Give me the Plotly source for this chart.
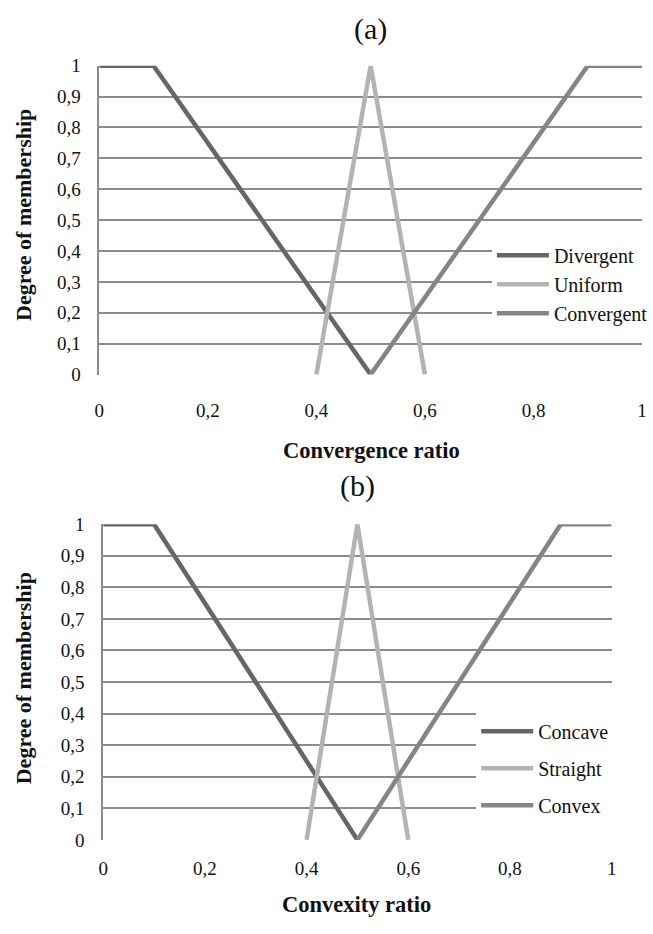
import plotly.graph_objects as go

# Data
div_x = [0, 0.1, 0.5]
div_y = [1, 1, 0]
uni_x = [0.4, 0.5, 0.6]
uni_y = [0, 1, 0]
con_x = [0.5, 0.9, 1]
con_y = [0, 1, 1]

names_a = ["Divergent", "Uniform", "Convergent"]
names_b = ["Concave", "Straight", "Convex"]
colors = ["#666666", "#b3b3b3", "#858585"]

xticks = [0, 0.2, 0.4, 0.6, 0.8, 1]
xtick_text = ["0", "0,2", "0,4", "0,6", "0,8", "1"]
yticks = [0, 0.1, 0.2, 0.3, 0.4, 0.5, 0.6, 0.7, 0.8, 0.9, 1]
ytick_text = ["0", "0,1", "0,2", "0,3", "0,4", "0,5", "0,6", "0,7", "0,8", "0,9", "1"]

FONT = "Liberation Serif, Times New Roman, serif"
GRID = "#8c8c8c"
TXT = "#111111"

series = [(div_x, div_y), (uni_x, uni_y), (con_x, con_y)]

fig = go.Figure()
for i, (xs, ys) in enumerate(series):
    fig.add_trace(go.Scatter(x=xs, y=ys, mode="lines", name=names_a[i],
                             line=dict(color=colors[i], width=4.5),
                             xaxis="x", yaxis="y", legend="legend",
                             legendgroup="a%d" % i, cliponaxis=False))
for i, (xs, ys) in enumerate(series):
    fig.add_trace(go.Scatter(x=xs, y=ys, mode="lines", name=names_b[i],
                             line=dict(color=colors[i], width=4.5),
                             xaxis="x2", yaxis="y2", legend="legend2",
                             legendgroup="b%d" % i, cliponaxis=False))

W, H = 653, 934

def px(x):
    return x / W

def py(y):
    return 1 - y / H

xcommon = dict(range=[0, 1], showgrid=False, zeroline=False, showline=False,
               tickmode="array", tickvals=xticks, ticktext=xtick_text,
               tickfont=dict(family=FONT, size=19, color=TXT), ticks="")
ycommon = dict(range=[0, 1], showgrid=True, gridcolor=GRID, gridwidth=1.5,
               zeroline=False, showline=True, linecolor=GRID, linewidth=1.5,
               tickmode="array", tickvals=yticks, ticktext=ytick_text,
               tickfont=dict(family=FONT, size=19, color=TXT), ticks="",
               ticklabelstandoff=13)

fig.update_layout(
    width=W, height=H,
    margin=dict(l=0, r=0, t=0, b=0),
    paper_bgcolor="white", plot_bgcolor="white",
    font=dict(family=FONT, color=TXT),
    xaxis=dict(domain=[px(96), px(649)], anchor="y", ticklabelstandoff=22, **xcommon),
    yaxis=dict(domain=[py(373), py(57)], anchor="x", **ycommon),
    xaxis2=dict(domain=[px(100), px(618)], anchor="y2", ticklabelstandoff=15, **xcommon),
    yaxis2=dict(domain=[py(849), py(526)], anchor="x2", **ycommon),
    legend=dict(x=px(496), y=py(231), xanchor="left", yanchor="top",
                bgcolor="white", traceorder="grouped", tracegroupgap=0,
                font=dict(family=FONT, size=20, color=TXT),
                itemwidth=52),
    legend2=dict(x=px(480), y=py(718), xanchor="left", yanchor="top",
                 bgcolor="white", traceorder="grouped", tracegroupgap=8,
                 font=dict(family=FONT, size=20, color=TXT),
                 itemwidth=52),
    showlegend=True,
)

ann = [
    dict(text="(a)", x=px(372), y=py(19), size=30, angle=0),
    dict(text="(b)", x=px(359), y=py(487), size=30, angle=0),
    dict(text="<b>Convergence ratio</b>", x=px(373), y=py(451), size=22.5, angle=0),
    dict(text="<b>Convexity ratio</b>", x=px(358), y=py(915), size=22.5, angle=0),
    dict(text="<b>Degree of membership</b>", x=px(19), y=py(210), size=22, angle=-90),
    dict(text="<b>Degree of membership</b>", x=px(19), y=py(684), size=22, angle=-90),
]
for a in ann:
    fig.add_annotation(text=a["text"], x=a["x"], y=a["y"], xref="paper", yref="paper",
                       xanchor="center", yanchor="middle", showarrow=False,
                       textangle=a["angle"],
                       font=dict(family=FONT, size=a["size"], color=TXT))

fig.write_html("out.html", config={"displayModeBar": False},
               post_script="document.body.style.margin='0';document.body.style.overflow='hidden';")
